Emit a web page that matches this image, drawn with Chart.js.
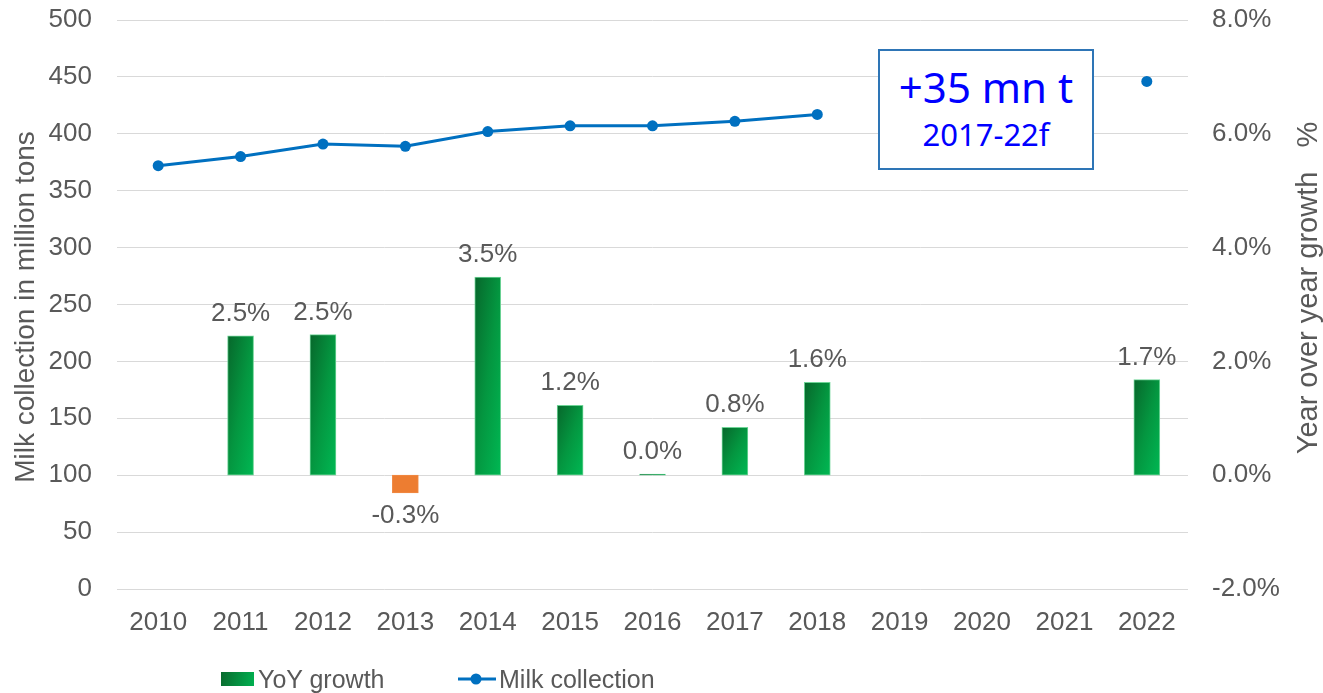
<!DOCTYPE html>
<html>
<head>
<meta charset="utf-8">
<script src="https://cdn.jsdelivr.net/npm/chart.js@4.4.1/dist/chart.umd.min.js"></script>
<style>
  html, body { margin: 0; padding: 0; background: #fff; }
  #wrap { position: relative; width: 1323px; height: 693px; overflow: hidden; }
  #box {
    position: absolute; left: 878px; top: 49px; width: 212px; height: 117px;
    border: 2px solid #2E75B6; background: #fff; color: #0000FF;
    font-family: "Noto Sans", sans-serif; text-align: center;
  }
  #box .big { font-size: 42px; line-height: 50px; margin-top: 11px; }
  #box .small { font-size: 31px; line-height: 44px; }
  .leg { position: absolute; top: 663px; font: 25px "Liberation Sans", Arial, sans-serif; color: #595959; white-space: nowrap; }
</style>
</head>
<body>
<div id="wrap">
  <canvas id="milkChart" width="1323" height="693"></canvas>
  <div id="box"><div class="big">+35 mn t</div><div class="small">2017-22f</div></div>
  <div class="leg" style="left:221px">
    <span style="display:inline-block;width:33px;height:14px;vertical-align:middle;background:linear-gradient(100deg,#0a6a2e,#00b050)"></span><span style="vertical-align:middle;margin-left:4px">YoY growth</span>
  </div>
  <div class="leg" style="left:458px">
    <svg width="38" height="14" style="vertical-align:middle"><line x1="0" y1="7" x2="38" y2="7" stroke="#0070C0" stroke-width="3"/><circle cx="18" cy="7" r="5.5" fill="#0070C0"/></svg><span style="vertical-align:middle;margin-left:3px">Milk collection</span>
  </div>
</div>
<script>
// data
const years = ['2010', '2011', '2012', '2013', '2014', '2015', '2016', '2017', '2018', '2019', '2020', '2021', '2022']
const milkCollection = [372, 380, 391, 389, 402, 407, 407, 411, 417, null, null, null, 446]
const yoyGrowth = [null, 2.45, 2.47, -0.31, 3.48, 1.23, 0.02, 0.84, 1.63, null, null, null, 1.68]

const gray = '#595959'
const fontFamily = '"Liberation Sans", Arial, sans-serif'

Chart.defaults.font.family = fontFamily
Chart.defaults.font.size = 26
Chart.defaults.color = gray

// diagonal gradient fill for bars (corner to corner of each bar) + value labels
const barStyle = {
  id: 'barStyle',
  beforeDatasetDraw(chart, args) {
    if (args.index !== 0) return
    const ctx = chart.ctx
    args.meta.data.forEach((el, i) => {
      const v = yoyGrowth[i]
      if (v === null) return
      if (v < 0) {
        el.options.backgroundColor = '#ED7D31'
        el.options.borderColor = '#f08a45'
        return
      }
      const p = el.getProps(['x', 'y', 'base', 'width'], true)
      const w = p.width
      const h = Math.max(p.base - p.y, 1)
      const k = 2 / (1 / (w * w) + 1 / (h * h))
      const x0 = p.x - w / 2
      const g = ctx.createLinearGradient(x0, p.y, x0 + k / w, p.y + k / h)
      g.addColorStop(0, '#07672b')
      g.addColorStop(0.5, '#049640')
      g.addColorStop(1, '#00b853')
      el.options.backgroundColor = g
      el.options.borderColor = '#6fd497'
    })
  },
  afterDatasetsDraw(chart) {
    const ctx = chart.ctx
    const meta = chart.getDatasetMeta(0)
    ctx.save()
    ctx.font = '26px ' + fontFamily
    ctx.fillStyle = gray
    ctx.textAlign = 'center'
    meta.data.forEach((el, i) => {
      const v = yoyGrowth[i]
      if (v === null) return
      const p = el.getProps(['x', 'y', 'base'], true)
      const txt = v.toFixed(1) + '%'
      if (v < 0) {
        ctx.textBaseline = 'top'
        ctx.fillText(txt, p.x, p.y + 10)
      } else {
        ctx.textBaseline = 'alphabetic'
        ctx.fillText(txt, p.x, p.y - 15)
      }
    })
    ctx.restore()
  }
}

// axis titles, both reading bottom to top
const axisTitles = {
  id: 'axisTitles',
  afterDraw(chart) {
    const ctx = chart.ctx
    const area = chart.chartArea
    const titles = [
      ['Milk collection in million tons', 26, area.top + 287, 28],
      ['Year over year growth   %', 1309, area.top + 268, 29]
    ]
    titles.forEach(([txt, x, y, size]) => {
      ctx.save()
      ctx.font = size + 'px ' + fontFamily
      ctx.fillStyle = gray
      ctx.textAlign = 'center'
      ctx.textBaseline = 'middle'
      ctx.translate(x, y)
      ctx.rotate(-Math.PI / 2)
      ctx.fillText(txt, 0, 0)
      ctx.restore()
    })
  }
}

const data = {
  labels: years,
  datasets: [{
    type: 'bar',
    label: 'YoY growth',
    data: yoyGrowth,
    yAxisID: 'y1',
    backgroundColor: (c) => (yoyGrowth[c.dataIndex] < 0 ? '#ED7D31' : '#00b050'),
    borderColor: '#6fd497',
    borderWidth: 1,
    borderSkipped: false,
    barThickness: 26,
    order: 2
  }, {
    type: 'line',
    label: 'Milk collection',
    data: milkCollection,
    yAxisID: 'y',
    borderColor: '#0070C0',
    backgroundColor: '#0070C0',
    borderWidth: 3,
    pointRadius: 5.5,
    pointBorderWidth: 0,
    spanGaps: false,
    order: 1
  }]
}

const fitY = (w) => (s) => {
  s.width = w
  s.paddingTop = 0
  s.paddingBottom = 0
}

const config = {
  data: data,
  plugins: [barStyle, axisTitles],
  options: {
    responsive: false,
    animation: false,
    layout: { padding: { top: 20, left: 0, right: 0, bottom: 0 } },
    plugins: {
      legend: { display: false },
      tooltip: { enabled: false }
    },
    scales: {
      x: {
        offset: true,
        grid: { display: false, drawTicks: false },
        border: { display: false },
        ticks: { padding: 18, maxRotation: 0, autoSkip: false },
        afterFit: (s) => { s.height = 104 }
      },
      y: {
        position: 'left',
        min: 0,
        max: 500,
        ticks: { stepSize: 50, padding: 25 },
        grid: { color: '#d9d9d9', lineWidth: 1, drawTicks: false },
        border: { display: false },
        afterFit: fitY(117)
      },
      y1: {
        position: 'right',
        min: -2,
        max: 8,
        ticks: { stepSize: 2, padding: 24, callback: (v) => v.toFixed(1) + '%' },
        grid: { display: false, drawTicks: false },
        border: { display: false },
        afterFit: fitY(135)
      }
    }
  }
}

const milkChart = new Chart(document.getElementById('milkChart'), config)
</script>
</body>
</html>
